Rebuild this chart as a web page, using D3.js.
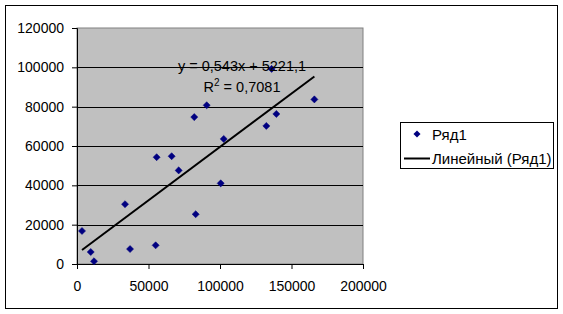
<!DOCTYPE html>
<html>
<head>
<meta charset="utf-8">
<script src="https://cdn.jsdelivr.net/npm/d3@7"></script>
<style>
  body { margin: 0; background: #fff; }
  text { font-family: "Liberation Sans", Arial, sans-serif; }
</style>
</head>
<body>
<svg id="chart"></svg>
<script>
// data
const xValues = [3500, 9600, 11900, 33600, 37100, 55000, 55700, 66200, 71100, 100500,
                 83000, 82000, 90700, 102600, 132400, 139400, 136100, 166000];
const yValues = [16800, 6100, 1400, 30400, 7600, 9500, 54300, 54800, 47600, 41000,
                 25300, 74700, 80700, 63600, 70200, 76300, 99200, 83700];
const xTicks = [0, 50000, 100000, 150000, 200000];
const yTicks = [0, 20000, 40000, 60000, 80000, 100000, 120000];
const slope = 0.543;
const intercept = 5221.1;
const eqLabel = "y = 0,543x + 5221,1";
const r2Label = "0,7081";
const seriesName = "Ряд1";
const trendName = "Линейный (Ряд1)";

const width = 563;
const height = 314;
const plot = { left: 77, right: 363, top: 28, bottom: 264 };

const svg = d3.select("#chart")
    .attr("width", width)
    .attr("height", height);

// outer frame
svg.append("rect")
    .attr("x", 5.5).attr("y", 5.5)
    .attr("width", 552).attr("height", 303)
    .attr("fill", "#fff")
    .attr("stroke", "#000");

const xScale = d3.scaleLinear().domain([0, 200000]).range([plot.left, plot.right]);
const yScale = d3.scaleLinear().domain([0, 120000]).range([plot.bottom, plot.top]);

// plot area
svg.append("rect")
    .attr("x", plot.left).attr("y", plot.top)
    .attr("width", plot.right - plot.left).attr("height", plot.bottom - plot.top)
    .attr("fill", "#c0c0c0")
    .attr("stroke", "#808080");

// gridlines
svg.selectAll(".grid")
    .data(yTicks.filter(d => d > 0 && d < 120000))
    .enter()
    .append("line")
    .attr("class", "grid")
    .attr("x1", plot.left).attr("x2", plot.right)
    .attr("y1", d => Math.round(yScale(d)) + 0.5)
    .attr("y2", d => Math.round(yScale(d)) + 0.5)
    .attr("stroke", "#000");

// axes
const xAxis = d3.axisBottom(xScale).tickValues(xTicks).tickSize(5).tickPadding(12).tickFormat(d => d);
svg.append("g")
    .attr("transform", "translate(0," + plot.bottom + ")")
    .call(xAxis)
    .call(g => g.selectAll("text").style("font-size", "14px").attr("fill", "#000"));

const yAxis = d3.axisLeft(yScale).tickValues(yTicks).tickSize(5).tickPadding(8).tickFormat(d => d);
svg.append("g")
    .attr("transform", "translate(" + plot.left + ",0)")
    .call(yAxis)
    .call(g => g.selectAll("text").style("font-size", "14px").attr("fill", "#000"));

svg.selectAll(".domain").attr("stroke", "#000");

// points
const diamond = d3.symbol().type(d3.symbolSquare).size(25);
svg.selectAll(".dot")
    .data(xValues.map((x, i) => ({ x: x, y: yValues[i] })))
    .enter()
    .append("path")
    .attr("class", "dot")
    .attr("d", diamond)
    .attr("transform", d => "translate(" + xScale(d.x) + "," + yScale(d.y) + ") rotate(45)")
    .attr("fill", "#000080")
    .attr("stroke", "#000080")
    .attr("stroke-width", 0.5);

// trend line
const xMin = d3.min(xValues), xMax = d3.max(xValues);
svg.append("line")
    .attr("x1", xScale(xMin)).attr("y1", yScale(slope * xMin + intercept))
    .attr("x2", xScale(xMax)).attr("y2", yScale(slope * xMax + intercept))
    .attr("stroke", "#000")
    .attr("stroke-width", 2);

// equation
svg.append("text")
    .attr("x", 242).attr("y", 71)
    .attr("text-anchor", "middle")
    .style("font-size", "14.5px")
    .text(eqLabel);

const r2 = svg.append("text")
    .attr("x", 242).attr("y", 92)
    .attr("text-anchor", "middle")
    .style("font-size", "14.5px");
r2.append("tspan").text("R");
r2.append("tspan").attr("dy", -6).style("font-size", "10px").text("2");
r2.append("tspan").attr("dy", 6).text(" = " + r2Label);

// legend
const legend = svg.append("g");
legend.append("rect")
    .attr("x", 400.5).attr("y", 122.5)
    .attr("width", 153).attr("height", 46)
    .attr("fill", "#fff")
    .attr("stroke", "#000");

legend.append("path")
    .attr("d", diamond)
    .attr("transform", "translate(417,134) rotate(45)")
    .attr("fill", "#000080");

legend.append("text")
    .attr("x", 432).attr("y", 139.5)
    .style("font-size", "15px")
    .text(seriesName);

legend.append("line")
    .attr("x1", 404).attr("x2", 430)
    .attr("y1", 158.5).attr("y2", 158.5)
    .attr("stroke", "#000")
    .attr("stroke-width", 2);

legend.append("text")
    .attr("x", 432).attr("y", 163.5)
    .style("font-size", "15px")
    .text(trendName);
</script>
</body>
</html>
